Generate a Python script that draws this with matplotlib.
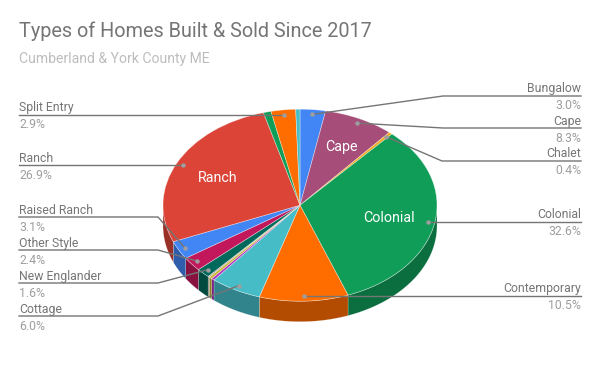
import numpy as np
import matplotlib
matplotlib.use("Agg")
import matplotlib.pyplot as plt
from matplotlib.colors import to_rgb

plt.rcParams['font.family'] = ['Roboto', 'DejaVu Sans']

# clockwise from 12 o'clock, small unlabelled slices
slice_names = ['Bungalow', 'Cape', 'Chalet', 'Colonial', 'Contemporary', 'Cottage',
               'Small A', 'Small B', 'Small C', 'New Englander', 'Other Style',
               'Raised Ranch', 'Ranch', 'Small D', 'Split Entry', 'Small E']
slice_values = [3.0, 8.3, 0.4, 32.6, 10.5, 6.0,
                0.35, 0.35, 0.2, 1.6, 2.4,
                3.1, 26.9, 0.9, 2.9, 0.5]
slice_colors = ['#4285F4', '#A64D79', '#F1A91B', '#0F9D58', '#FF6D00', '#46BDC6',
                '#AB30C4', '#C9B52A', '#B7A98C', '#00695C', '#C2185B',
                '#4285F4', '#DB4437', '#0F9D58', '#FF6D00', '#46BDC6']

# label, percent text, text y (name), elbow, end of line
labels_right = [('Bungalow', '3.0%', 87, (443, 96), 581),
                ('Cape', '8.3%', 120, (443, 128), 581),
                ('Chalet', '0.4%', 152, (442, 161), 581),
                ('Colonial', '32.6%', 213, None, 581),
                ('Contemporary', '10.5%', 287, None, 581)]
labels_left = [('Split Entry', '2.9%', 106, None, 19),
               ('Ranch', '26.9%', 157, None, 19),
               ('Raised Ranch', '3.1%', 209, (158, 217), 19),
               ('Other Style', '2.4%', 242, (158, 250), 19),
               ('New Englander', '1.6%', 275, (158, 283), 19),
               ('Cottage', '6.0%', 308, (158, 316), 19)]
inside_labels = [('Cape', 341, 146), ('Ranch', 218, 177), ('Colonial', 389, 217)]

W, H = 600, 371
CX, CY, RX, RY = 300, 205.2, 137, 96
DEPTH = 20.5 / RY

values = np.array(slice_values)
edges = np.concatenate([[0], np.cumsum(values)]) / values.sum() * 2 * np.pi
mids = dict(zip(slice_names, (edges[:-1] + edges[1:]) / 2))

fig = plt.figure(figsize=(W / 100, H / 100), dpi=100)
ax = fig.add_axes([(CX - RX) / W, 1 - (CY + RY) / H, 2 * RX / W, 2 * RY / H])

# side wall of the pie, only the front half shows
for i in range(len(values)):
    a = max(edges[i], np.pi / 2)
    b = min(edges[i + 1], 3 * np.pi / 2)
    if b <= a:
        continue
    t = np.linspace(a, b, 40)
    xs = np.concatenate([np.sin(t), np.sin(t[::-1])])
    ys = np.concatenate([np.cos(t), np.cos(t[::-1]) - DEPTH])
    dark = tuple(c * 0.7 for c in to_rgb(slice_colors[i]))
    ax.fill(xs, ys, color=dark, lw=0.4, ec=(1, 1, 1, 0.35), zorder=1, clip_on=False)

wedges, _ = ax.pie(values, colors=slice_colors, startangle=90, counterclock=False,
                   radius=1, wedgeprops={'lw': 0.5, 'ec': (1, 1, 1, 0.45)})
for w in wedges:
    w.set_zorder(2)
    w.set_clip_on(False)
ax.set_aspect('auto')
ax.set_xlim(-1, 1)
ax.set_ylim(-1, 1)

# overlay in pixel units for text and leader lines
top = fig.add_axes([0, 0, 1, 1], facecolor='none')
top.set_xlim(0, W)
top.set_ylim(H, 0)
top.axis('off')

GRAY = '#757575'


def dot_pos(name):
    th = mids[name]
    return CX + 0.95 * RX * np.sin(th), CY - 0.95 * RY * np.cos(th)


def leader(name, pct, y, elbow, end, ha):
    dx, dy = dot_pos(name)
    line_y = elbow[1] if elbow else dy
    px = [dx] + ([elbow[0]] if elbow else []) + [end]
    py = [dy] + ([line_y] if elbow else []) + [line_y]
    top.plot(px, py, color=GRAY, lw=1.0, solid_joinstyle='miter')
    top.plot([dx], [dy], 'o', ms=3.2, color='#9e9e9e', mew=0)
    top.text(end, y + 1.2, name, color=GRAY, fontsize=8.8, ha=ha, va='center')
    top.text(end, y + 18.7, pct, color='#9e9e9e', fontsize=8.8, ha=ha, va='center')


for name, pct, y, elbow, end in labels_right:
    leader(name, pct, y, elbow, end, 'right')
for name, pct, y, elbow, end in labels_left:
    leader(name, pct, y, elbow, end, 'left')

for name, x, y in inside_labels:
    top.text(x, y + 0.8, name, color='white', fontsize=10.3, ha='center', va='center')

top.text(19, 31.5, 'Types of Homes Built & Sold Since 2017', color=GRAY, fontsize=14.35,
         ha='left', va='center')
top.text(19, 59, 'Cumberland & York County ME', color='#BDBDBD', fontsize=10.1,
         ha='left', va='center')

fig.savefig('out.png', dpi=100)
